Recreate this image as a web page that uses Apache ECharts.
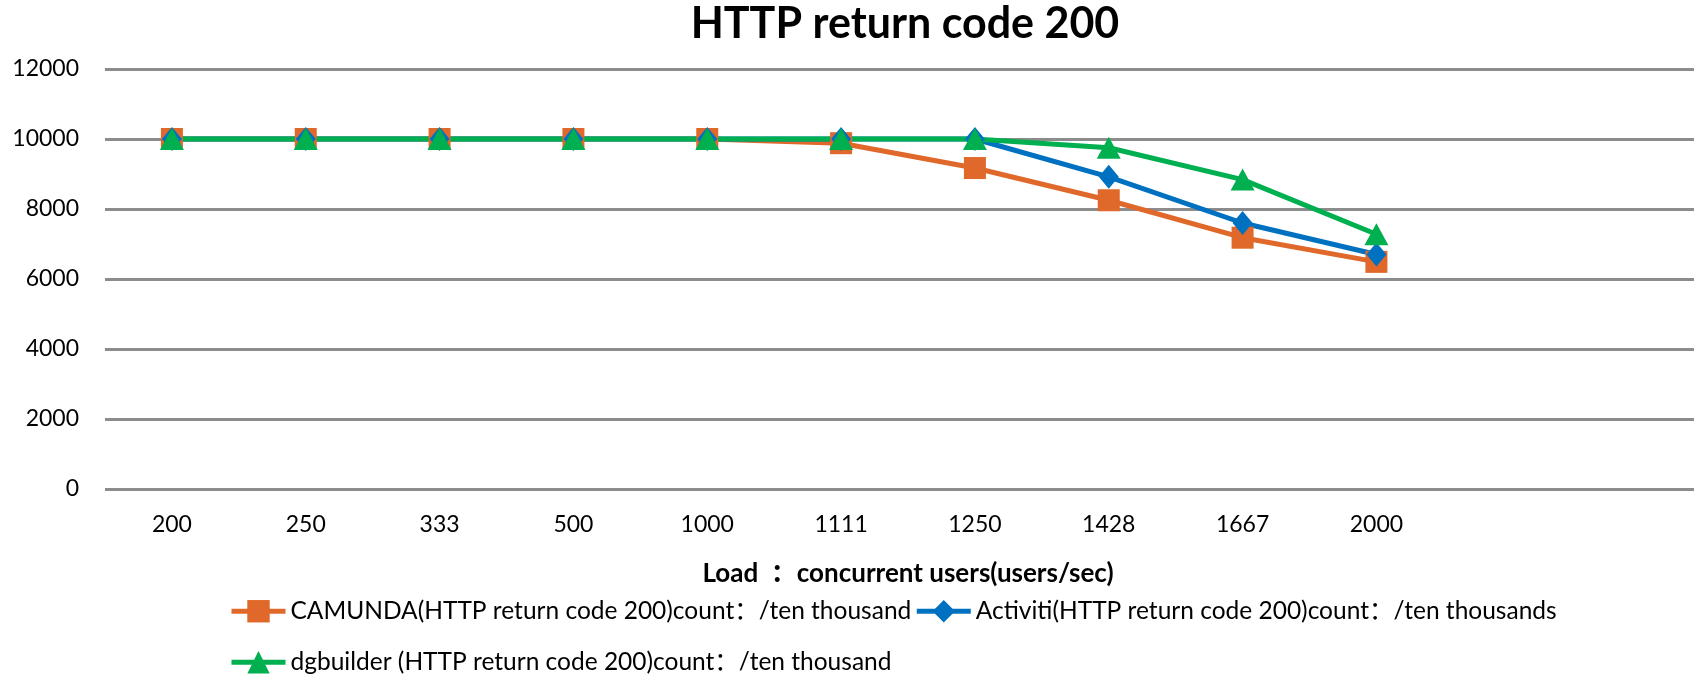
<!DOCTYPE html>
<html>
<head>
<meta charset="utf-8">
<script src="https://cdn.jsdelivr.net/npm/echarts@6/dist/echarts.min.js"></script>
<style>
  html, body { margin: 0; padding: 0; background: #fff; }
  #chart { width: 1694px; height: 675px; }
</style>
</head>
<body>
<div id="chart"></div>
<script>
// load levels (concurrent users / sec)
const categories = ['200', '250', '333', '500', '1000', '1111', '1250', '1428', '1667', '2000'];

// HTTP 200 counts, in ten thousands
const camunda = [10000, 10000, 10000, 10000, 10000, 9880, 9170, 8250, 7180, 6490];
const activiti = [10000, 10000, 10000, 10000, 10000, 10000, 10000, 8920, 7600, 6700];
const dgbuilder = [10000, 10000, 10000, 10000, 10000, 10000, 10000, 9750, 8840, 7280];

const yTicks = [0, 2000, 4000, 6000, 8000, 10000, 12000];

const seriesNames = [
  'CAMUNDA(HTTP return code 200)count：/ten thousand',
  'Activiti(HTTP return code 200)count：/ten thousands',
  'dgbuilder (HTTP return code 200)count：/ten thousand'
];

const FONT = 'Lato, "Noto Sans CJK SC", sans-serif';
const colors = ['#E0682A', '#0070C0', '#00B050'];

const chart = echarts.init(document.getElementById('chart'));

const legendText = { fontFamily: FONT, fontSize: 24.5, color: '#000' };

chart.setOption({
  animation: false,
  color: colors,
  title: {
    text: 'HTTP return code 200',
    left: 900,
    textAlign: 'center',
    top: -2,
    textStyle: { fontFamily: FONT, fontSize: 43, fontWeight: 'bold', color: '#000' }
  },
  legend: [
    {
      data: [seriesNames[0], seriesNames[1]],
      left: 229,
      top: 599,
      padding: 0,
      itemWidth: 54,
      itemHeight: 28,
      itemGap: 3,
      lineStyle: { width: 5 },
      textStyle: legendText
    },
    {
      data: [seriesNames[2]],
      left: 229,
      top: 650,
      padding: 0,
      itemWidth: 54,
      itemHeight: 28,
      lineStyle: { width: 5 },
      textStyle: legendText
    }
  ],
  // plot area runs past the right edge of the picture, as in the original
  grid: { left: 105, right: -17, top: 69, bottom: 186, outerBoundsMode: 'none' },
  xAxis: {
    type: 'category',
    // two empty slots on the right, like the original plot area
    data: categories.concat(['', '']),
    boundaryGap: true,
    axisLine: { show: false },
    axisTick: { show: false },
    axisLabel: { fontFamily: FONT, fontSize: 23, color: '#000', margin: 24 },
    name: 'Load  ：concurrent users(users/sec)',
    nameLocation: 'middle',
    nameGap: 72,
    nameTextStyle: { fontFamily: FONT, fontSize: 26, fontWeight: 'bold', color: '#000' }
  },
  yAxis: {
    type: 'value',
    min: yTicks[0],
    max: yTicks[yTicks.length - 1],
    interval: yTicks[1] - yTicks[0],
    axisLine: { show: false },
    axisTick: { show: false },
    axisLabel: {
      fontFamily: FONT, fontSize: 23, color: '#000', margin: 26,
      formatter: (v) => String(v)
    },
    splitLine: { lineStyle: { color: '#8C8C8C', width: 3 } }
  },
  series: [
    {
      name: seriesNames[0],
      type: 'line',
      data: camunda,
      symbol: 'rect',
      symbolSize: 22,
      lineStyle: { width: 5 },
      itemStyle: { color: colors[0] }
    },
    {
      name: seriesNames[1],
      type: 'line',
      data: activiti,
      symbol: 'diamond',
      symbolSize: [20, 24],
      lineStyle: { width: 5 },
      itemStyle: { color: colors[1] }
    },
    {
      name: seriesNames[2],
      type: 'line',
      data: dgbuilder,
      symbol: 'triangle',
      symbolSize: [24, 22],
      lineStyle: { width: 5 },
      itemStyle: { color: colors[2] }
    }
  ]
});
</script>
</body>
</html>
